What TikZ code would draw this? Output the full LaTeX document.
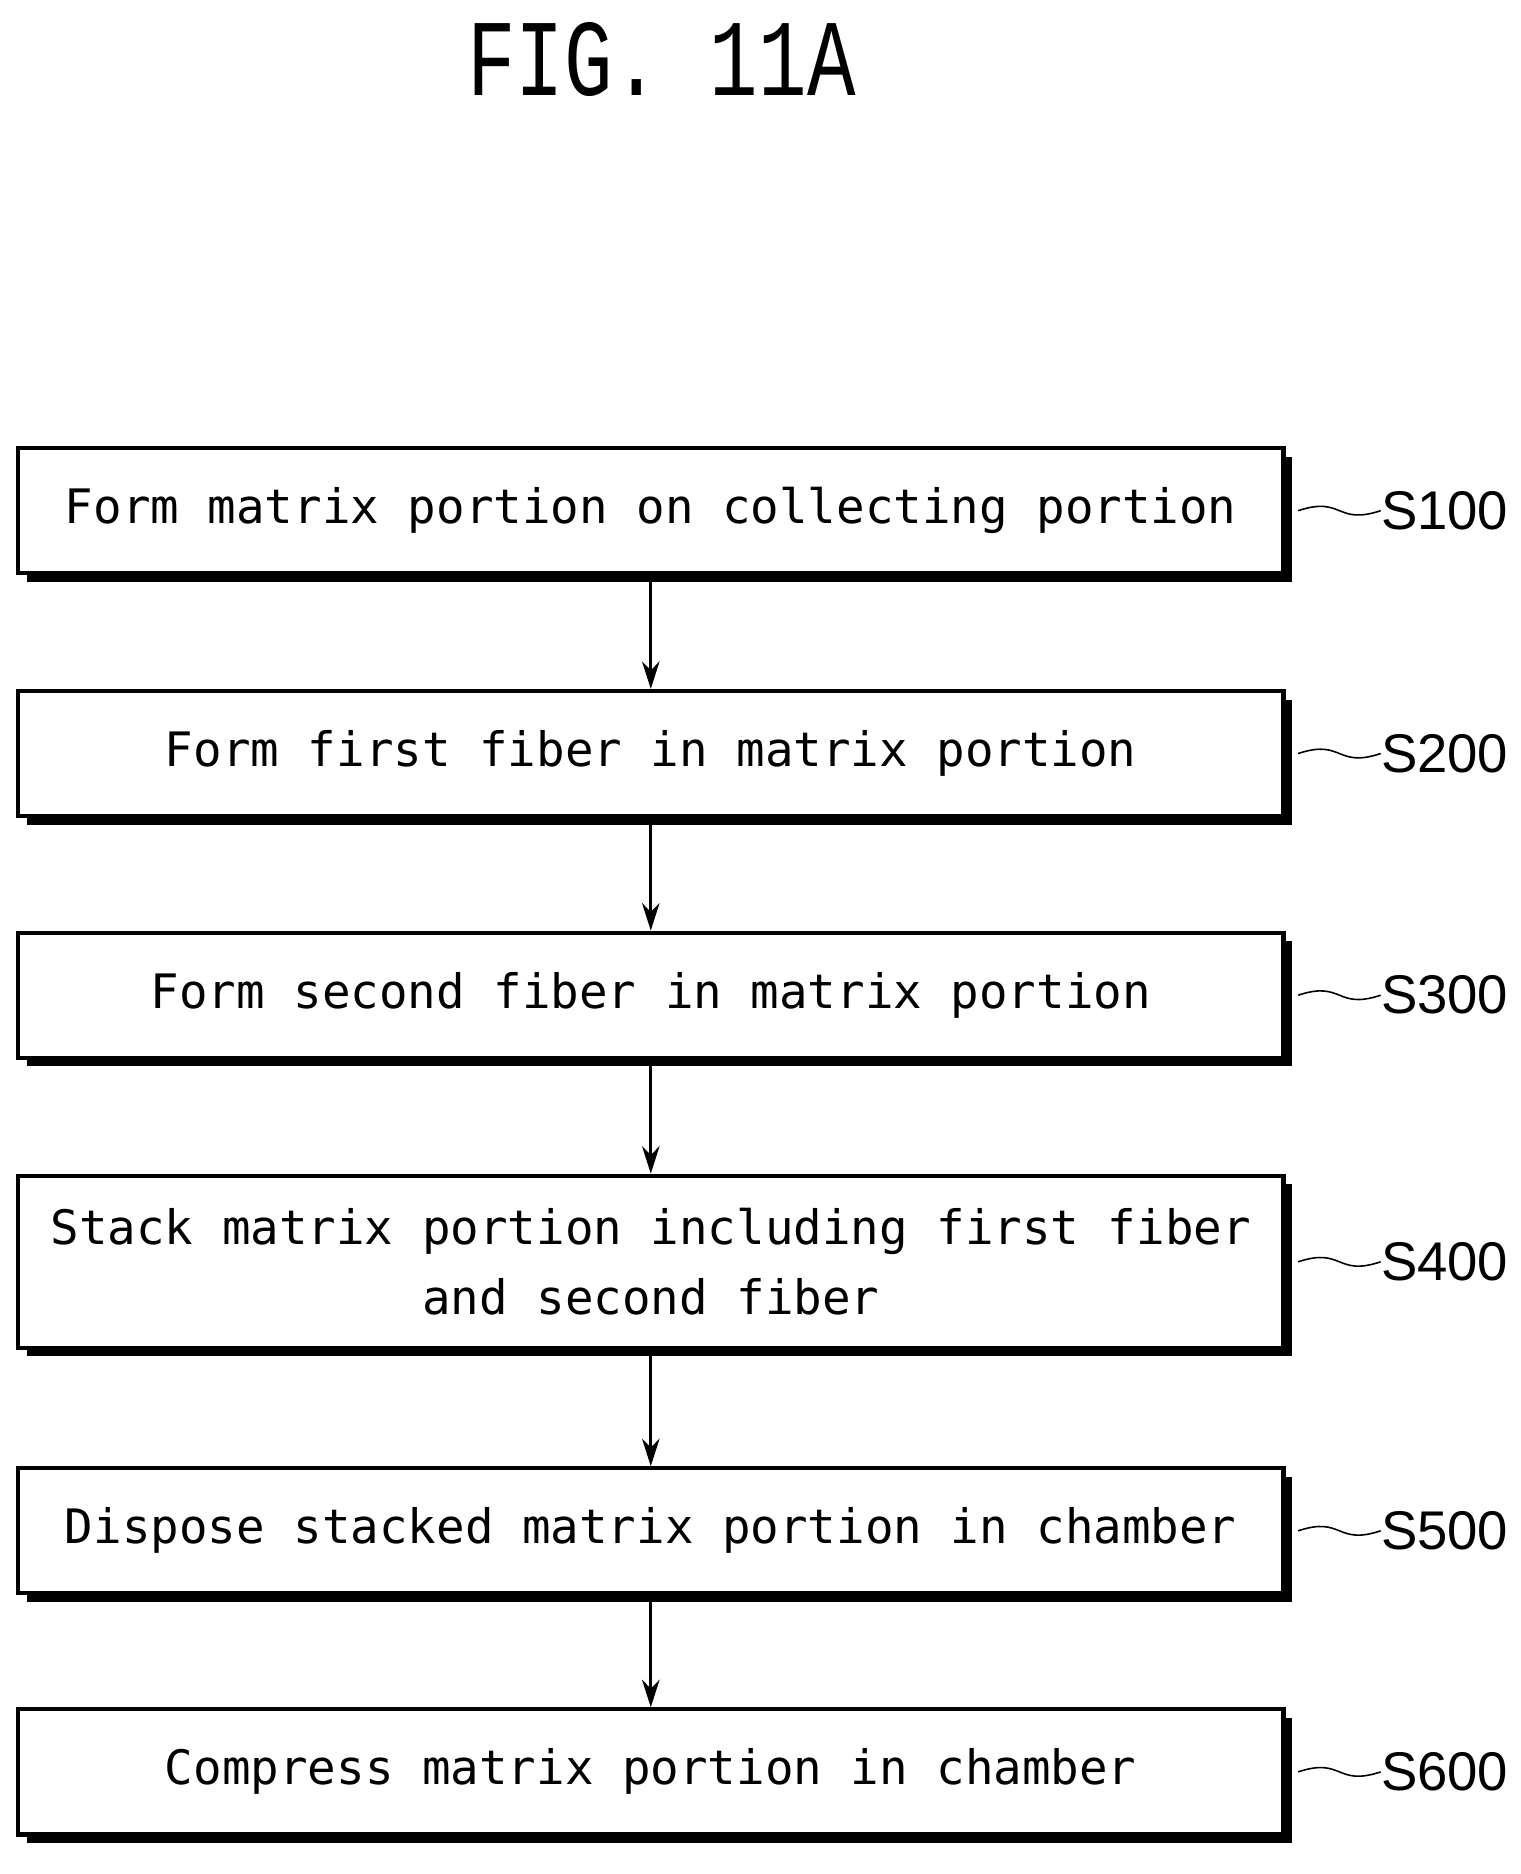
\documentclass[tikz,border=0pt]{standalone}
\usepackage{fontspec}
\setmonofont{DejaVu Sans Mono}
\setsansfont{Liberation Sans}
\newfontfamily\titlefont{Liberation Mono}
\usetikzlibrary{arrows, arrows.meta, positioning, shadows}
\tikzset{
    %Define standard arrow tip
    >=stealth',
}

\begin{document}
\begin{tikzpicture}[x=0.02375cm, y=-0.02375cm]
    \tikzset{
      stepbox/.style={draw, fill=white,
                 line width=2.4pt,
                 minimum width=25.3cm,
                 minimum height=2.5cm,
                 shape=rectangle,
                 font=\ttfamily\fontsize{27}{40}\selectfont,
                 align=center},
      shd/.style={drop shadow={shadow xshift=0.17cm, shadow yshift=-0.17cm,
                  fill=black, opacity=1}},
      steplabel/.style={font=\sffamily\fontsize{31}{36}\selectfont, anchor=west, inner sep=0pt},
      flow/.style={-{Stealth[length=0.55cm, width=0.35cm]}, line width=1.6pt},
    }
    \useasboundingbox (0,0) rectangle (1280,1578);

    \node[font=\titlefont\fontsize{46}{50}\selectfont, yscale=1.35] (title) at (557,50) {FIG. 11A};

    \node [stepbox, shd] (s100) at (548,430) {Form matrix portion on collecting portion};
    \node [stepbox, shd] (s200) at (548,634.5) {Form first fiber in matrix portion};
    \node [stepbox, shd] (s300) at (548,838) {Form second fiber in matrix portion};
    \node [stepbox, shd, minimum height=3.44cm] (s400) at (548,1062.5) {Stack matrix portion including first fiber\\and second fiber};
    \node [stepbox, shd] (s500) at (548,1289) {Dispose stacked matrix portion in chamber};
    \node [stepbox, shd] (s600) at (548,1492) {Compress matrix portion in chamber};

    \path[draw, flow] (s100) edge (s200)
                      (s200) edge (s300)
                      (s300) edge (s400)
                      (s400) edge (s500)
                      (s500) edge (s600);

    \foreach \s in {100,200,300,400,500,600} {
        \node[steplabel] (l\s) at ([xshift=1.9cm]s\s.east) {S\s};
        \draw[line width=0.9pt] ([xshift=0.25cm]s\s.east) .. controls +(0.9cm,0.3cm) and +(-0.9cm,-0.3cm) .. (l\s.west);
    }
\end{tikzpicture}
\end{document}
